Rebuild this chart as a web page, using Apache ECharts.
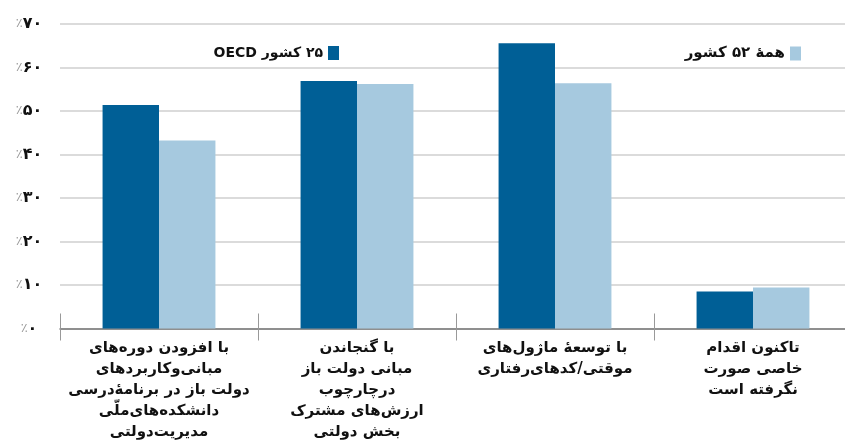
<!DOCTYPE html>
<html>
<head>
<meta charset="utf-8">
<script src="https://cdn.jsdelivr.net/npm/echarts@6/dist/echarts.min.js"></script>
<style>
  html, body { margin: 0; padding: 0; background: #fff; }
  #main { width: 845px; height: 444px; }
</style>
</head>
<body>
<div id="main"></div>
<script>
// دسته‌ها (برچسب‌های چندخطی محور افقی)
var categories = [
  'با افزودن دوره‌های\nمبانی‌وکاربردهای\nدولت باز در برنامهٔ‌درسی\nدانشکده‌های‌ملّی\nمدیریت‌دولتی',
  'با گنجاندن\nمبانی دولت باز\nدرچارچوب\nارزش‌های مشترک\nبخش دولتی',
  'با توسعهٔ ماژول‌های\nموقتی/کدهای‌رفتاری',
  'تاکنون اقدام\nخاصی صورت\nنگرفته است'
];
var seriesNames = ['\u202B۲۵ کشور OECD\u202C', 'همهٔ ۵۲ کشور'];
var oecdValues = [51.4, 56.9, 65.6, 8.5];
var allValues = [43.2, 56.2, 56.4, 9.4];
var yTickLabels = ['۰', '۱۰', '۲۰', '۳۰', '۴۰', '۵۰', '۶۰', '۷۰'];

var chart = echarts.init(document.getElementById('main'));
var option = {
  animation: false,
  textStyle: { fontFamily: 'DejaVu Sans' },
  grid: { left: 60, right: -7, top: 24, bottom: 115.5, outerBoundsMode: 'none', containLabel: false },
  legend: [
    {
      data: [seriesNames[0]],
      right: 501, top: 41,
      align: 'right', icon: 'rect', itemWidth: 11, itemHeight: 14, itemGap: 8,
      textStyle: { fontSize: 14, fontWeight: 'bold', color: '#111', fontFamily: 'DejaVu Sans' }
    },
    {
      data: [seriesNames[1]],
      right: 39, top: 41,
      align: 'right', icon: 'rect', itemWidth: 11, itemHeight: 14, itemGap: 8,
      textStyle: { fontSize: 15, fontWeight: 'bold', color: '#111', fontFamily: 'DejaVu Sans' }
    }
  ],
  xAxis: [
    {
      type: 'category',
      data: categories,
      axisLine: { lineStyle: { color: '#777', width: 1.5 } },
      axisTick: { show: true, length: 12, lineStyle: { color: '#999' } },
      axisLabel: {
        interval: 0, margin: 9,
        fontSize: 15, fontWeight: 'bold', color: '#111', lineHeight: 21,
        fontFamily: 'DejaVu Sans'
      }
    },
    {
      type: 'category',
      data: categories,
      position: 'bottom',
      axisLine: { show: false },
      axisTick: { show: true, inside: true, length: 15, lineStyle: { color: '#999' } },
      axisLabel: { show: false }
    }
  ],
  yAxis: {
    type: 'value',
    min: 0, max: 70, interval: 10,
    axisLine: { show: false },
    axisTick: { show: false },
    splitLine: { lineStyle: { color: '#cfcfcf', width: 1.5 } },
    axisLabel: {
      align: 'center', margin: 31,
      formatter: function (v) {
        return '{p|٪}{d|' + yTickLabels[Math.round(v / 10)] + '}';
      },
      rich: {
        p: { color: '#999', fontSize: 13, fontFamily: 'DejaVu Sans' },
        d: { color: '#111', fontSize: 16, fontWeight: 'bold', fontFamily: 'DejaVu Sans' }
      }
    }
  },
  series: [
    {
      name: seriesNames[0],
      type: 'bar',
      data: oecdValues,
      barGap: '0%',
      barCategoryGap: '43%',
      itemStyle: { color: '#005f96' }
    },
    {
      name: seriesNames[1],
      type: 'bar',
      data: allValues,
      barGap: '0%',
      barCategoryGap: '43%',
      itemStyle: { color: '#a6c9df' }
    }
  ]
};
chart.setOption(option);
</script>
</body>
</html>
